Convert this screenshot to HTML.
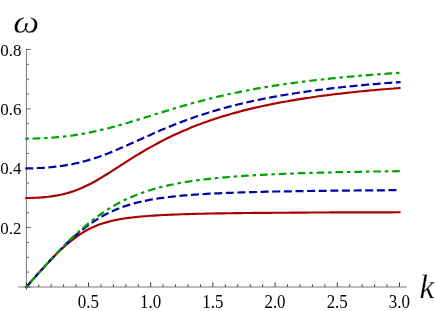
<!DOCTYPE html>
<html><head><meta charset="utf-8"><title>Dispersion relation plot</title>
<style>
html,body{margin:0;padding:0;background:#fff;}
body{width:436px;height:311px;overflow:hidden;}
svg{display:block;will-change:transform;}
text{font-family:"Liberation Serif",serif;fill:#000;}
</style></head><body>
<svg width="436" height="311" viewBox="0 0 436 311">
<rect width="436" height="311" fill="#fff"/>
<g stroke="#404040" stroke-width="0.78" fill="none">
<line x1="18.1" y1="287" x2="407" y2="287" stroke-width="0.7"/>
<line x1="26.40" y1="49.11" x2="26.40" y2="289.7" stroke-width="0.7"/>
<line x1="26.30" y1="286.95" x2="26.30" y2="282.35" stroke-width="1"/>
<line x1="38.74" y1="286.95" x2="38.74" y2="284.25" stroke-width="1"/>
<line x1="51.18" y1="286.95" x2="51.18" y2="284.25" stroke-width="1"/>
<line x1="63.62" y1="286.95" x2="63.62" y2="284.25" stroke-width="1"/>
<line x1="76.06" y1="286.95" x2="76.06" y2="284.25" stroke-width="1"/>
<line x1="88.50" y1="286.95" x2="88.50" y2="282.35" stroke-width="1"/>
<line x1="100.94" y1="286.95" x2="100.94" y2="284.25" stroke-width="1"/>
<line x1="113.38" y1="286.95" x2="113.38" y2="284.25" stroke-width="1"/>
<line x1="125.82" y1="286.95" x2="125.82" y2="284.25" stroke-width="1"/>
<line x1="138.26" y1="286.95" x2="138.26" y2="284.25" stroke-width="1"/>
<line x1="150.70" y1="286.95" x2="150.70" y2="282.35" stroke-width="1"/>
<line x1="163.14" y1="286.95" x2="163.14" y2="284.25" stroke-width="1"/>
<line x1="175.58" y1="286.95" x2="175.58" y2="284.25" stroke-width="1"/>
<line x1="188.02" y1="286.95" x2="188.02" y2="284.25" stroke-width="1"/>
<line x1="200.46" y1="286.95" x2="200.46" y2="284.25" stroke-width="1"/>
<line x1="212.90" y1="286.95" x2="212.90" y2="282.35" stroke-width="1"/>
<line x1="225.34" y1="286.95" x2="225.34" y2="284.25" stroke-width="1"/>
<line x1="237.78" y1="286.95" x2="237.78" y2="284.25" stroke-width="1"/>
<line x1="250.22" y1="286.95" x2="250.22" y2="284.25" stroke-width="1"/>
<line x1="262.66" y1="286.95" x2="262.66" y2="284.25" stroke-width="1"/>
<line x1="275.10" y1="286.95" x2="275.10" y2="282.35" stroke-width="1"/>
<line x1="287.54" y1="286.95" x2="287.54" y2="284.25" stroke-width="1"/>
<line x1="299.98" y1="286.95" x2="299.98" y2="284.25" stroke-width="1"/>
<line x1="312.42" y1="286.95" x2="312.42" y2="284.25" stroke-width="1"/>
<line x1="324.86" y1="286.95" x2="324.86" y2="284.25" stroke-width="1"/>
<line x1="337.30" y1="286.95" x2="337.30" y2="282.35" stroke-width="1"/>
<line x1="349.74" y1="286.95" x2="349.74" y2="284.25" stroke-width="1"/>
<line x1="362.18" y1="286.95" x2="362.18" y2="284.25" stroke-width="1"/>
<line x1="374.62" y1="286.95" x2="374.62" y2="284.25" stroke-width="1"/>
<line x1="387.06" y1="286.95" x2="387.06" y2="284.25" stroke-width="1"/>
<line x1="399.50" y1="286.95" x2="399.50" y2="282.35" stroke-width="1"/>
<line x1="26.3" y1="286.95" x2="30.90" y2="286.95"/>
<line x1="26.3" y1="272.11" x2="29.00" y2="272.11"/>
<line x1="26.3" y1="257.27" x2="29.00" y2="257.27"/>
<line x1="26.3" y1="242.43" x2="29.00" y2="242.43"/>
<line x1="26.3" y1="227.59" x2="30.90" y2="227.59"/>
<line x1="26.3" y1="212.75" x2="29.00" y2="212.75"/>
<line x1="26.3" y1="197.91" x2="29.00" y2="197.91"/>
<line x1="26.3" y1="183.07" x2="29.00" y2="183.07"/>
<line x1="26.3" y1="168.23" x2="30.90" y2="168.23"/>
<line x1="26.3" y1="153.39" x2="29.00" y2="153.39"/>
<line x1="26.3" y1="138.55" x2="29.00" y2="138.55"/>
<line x1="26.3" y1="123.71" x2="29.00" y2="123.71"/>
<line x1="26.3" y1="108.87" x2="30.90" y2="108.87"/>
<line x1="26.3" y1="94.03" x2="29.00" y2="94.03"/>
<line x1="26.3" y1="79.19" x2="29.00" y2="79.19"/>
<line x1="26.3" y1="64.35" x2="29.00" y2="64.35"/>
<line x1="26.3" y1="49.51" x2="30.90" y2="49.51"/>
</g>
<g font-size="16.9">
<text transform="translate(88.40 307.95) scale(1.0 1.06)" text-anchor="middle">0.5</text>
<text transform="translate(150.60 307.95) scale(1.0 1.06)" text-anchor="middle">1.0</text>
<text transform="translate(212.80 307.95) scale(1.0 1.06)" text-anchor="middle">1.5</text>
<text transform="translate(275.00 307.95) scale(1.0 1.06)" text-anchor="middle">2.0</text>
<text transform="translate(337.20 307.95) scale(1.0 1.06)" text-anchor="middle">2.5</text>
<text transform="translate(399.40 307.95) scale(1.0 1.06)" text-anchor="middle">3.0</text>
<text transform="translate(21.4 233.64) scale(1.0 1.05)" text-anchor="end">0.2</text>
<text transform="translate(21.4 174.28) scale(1.0 1.05)" text-anchor="end">0.4</text>
<text transform="translate(21.4 114.92) scale(1.0 1.05)" text-anchor="end">0.6</text>
<text transform="translate(21.4 55.56) scale(1.0 1.05)" text-anchor="end">0.8</text>
</g>
<text transform="translate(13.3 32.55) scale(1.05 0.9)" font-size="35" font-style="italic" stroke="#fff" stroke-width="0.3">ω</text>
<text x="419.4" y="297.5" font-size="33.2" font-style="italic" stroke="#fff" stroke-width="0.25">k</text>
<g stroke-linecap="square" stroke-linejoin="round">
<path d="M26.3,287.1 L29.4,283.5 L32.5,279.9 L35.6,276.4 L38.7,272.9 L41.9,269.5 L45.0,266.1 L48.1,262.7 L51.2,259.4 L54.3,256.2 L57.4,253.1 L60.5,250.1 L63.6,247.2 L66.7,244.5 L69.8,241.9 L73.0,239.4 L76.1,237.1 L79.2,234.9 L82.3,232.9 L85.4,231.0 L88.5,229.3 L91.6,227.8 L94.7,226.4 L97.8,225.1 L100.9,224.0 L104.0,223.0 L107.2,222.1 L110.3,221.3 L113.4,220.5 L116.5,219.9 L119.6,219.3 L122.7,218.8 L125.8,218.3 L128.9,217.9 L132.0,217.5 L135.2,217.1 L138.3,216.8 L141.4,216.5 L144.5,216.2 L147.6,216.0 L150.7,215.8 L153.8,215.6 L156.9,215.4 L160.0,215.2 L163.1,215.0 L166.3,214.9 L169.4,214.7 L172.5,214.6 L175.6,214.5 L178.7,214.4 L181.8,214.2 L184.9,214.1 L188.0,214.1 L191.1,214.0 L194.2,213.9 L197.4,213.8 L200.5,213.7 L203.6,213.7 L206.7,213.6 L209.8,213.5 L212.9,213.5 L216.0,213.4 L219.1,213.4 L222.2,213.3 L225.3,213.3 L228.5,213.2 L231.6,213.2 L234.7,213.1 L237.8,213.1 L240.9,213.1 L244.0,213.0 L247.1,213.0 L250.2,213.0 L253.3,212.9 L256.4,212.9 L259.6,212.9 L262.7,212.8 L265.8,212.8 L268.9,212.8 L272.0,212.8 L275.1,212.7 L278.2,212.7 L281.3,212.7 L284.4,212.7 L287.5,212.7 L290.7,212.6 L293.8,212.6 L296.9,212.6 L300.0,212.6 L303.1,212.6 L306.2,212.6 L309.3,212.5 L312.4,212.5 L315.5,212.5 L318.6,212.5 L321.8,212.5 L324.9,212.5 L328.0,212.5 L331.1,212.4 L334.2,212.4 L337.3,212.4 L340.4,212.4 L343.5,212.4 L346.6,212.4 L349.7,212.4 L352.9,212.4 L356.0,212.4 L359.1,212.3 L362.2,212.3 L365.3,212.3 L368.4,212.3 L371.5,212.3 L374.6,212.3 L377.7,212.3 L380.8,212.3 L384.0,212.3 L387.1,212.3 L390.2,212.3 L393.3,212.3 L396.4,212.2 L399.5,212.2" fill="none" stroke="#a80000" stroke-width="2.15"/>
<path d="M26.3,198.0 L29.4,198.0 L32.5,197.9 L35.6,197.8 L38.7,197.6 L41.9,197.4 L45.0,197.1 L48.1,196.8 L51.2,196.4 L54.3,195.9 L57.4,195.4 L60.5,194.8 L63.6,194.1 L66.7,193.3 L69.8,192.4 L73.0,191.4 L76.1,190.3 L79.2,189.1 L82.3,187.8 L85.4,186.3 L88.5,184.8 L91.6,183.2 L94.7,181.5 L97.8,179.7 L100.9,177.9 L104.0,176.0 L107.2,174.0 L110.3,172.1 L113.4,170.1 L116.5,168.1 L119.6,166.1 L122.7,164.1 L125.8,162.1 L128.9,160.1 L132.0,158.2 L135.2,156.2 L138.3,154.3 L141.4,152.5 L144.5,150.6 L147.6,148.8 L150.7,147.1 L153.8,145.4 L156.9,143.7 L160.0,142.0 L163.1,140.4 L166.3,138.8 L169.4,137.3 L172.5,135.8 L175.6,134.3 L178.7,132.9 L181.8,131.5 L184.9,130.2 L188.0,128.9 L191.1,127.6 L194.2,126.3 L197.4,125.1 L200.5,124.0 L203.6,122.8 L206.7,121.7 L209.8,120.6 L212.9,119.5 L216.0,118.5 L219.1,117.5 L222.2,116.5 L225.3,115.6 L228.5,114.7 L231.6,113.8 L234.7,112.9 L237.8,112.1 L240.9,111.2 L244.0,110.4 L247.1,109.6 L250.2,108.9 L253.3,108.1 L256.4,107.4 L259.6,106.7 L262.7,106.0 L265.8,105.4 L268.9,104.7 L272.0,104.1 L275.1,103.5 L278.2,102.9 L281.3,102.3 L284.4,101.7 L287.5,101.2 L290.7,100.6 L293.8,100.1 L296.9,99.6 L300.0,99.1 L303.1,98.6 L306.2,98.1 L309.3,97.7 L312.4,97.2 L315.5,96.8 L318.6,96.3 L321.8,95.9 L324.9,95.5 L328.0,95.1 L331.1,94.7 L334.2,94.3 L337.3,93.9 L340.4,93.6 L343.5,93.2 L346.6,92.9 L349.7,92.5 L352.9,92.2 L356.0,91.9 L359.1,91.5 L362.2,91.2 L365.3,90.9 L368.4,90.6 L371.5,90.3 L374.6,90.1 L377.7,89.8 L380.8,89.5 L384.0,89.2 L387.1,89.0 L390.2,88.7 L393.3,88.5 L396.4,88.2 L399.5,88.0" fill="none" stroke="#a80000" stroke-width="2.15"/>
<path d="M26.3,287.1 L29.4,283.5 L32.5,279.9 L35.6,276.4 L38.7,272.9 L41.9,269.4 L45.0,266.0 L48.1,262.6 L51.2,259.2 L54.3,255.9 L57.4,252.7 L60.5,249.5 L63.6,246.4 L66.7,243.4 L69.8,240.5 L73.0,237.6 L76.1,234.9 L79.2,232.3 L82.3,229.8 L85.4,227.4 L88.5,225.1 L91.6,222.9 L94.7,220.8 L97.8,218.8 L100.9,217.0 L104.0,215.2 L107.2,213.6 L110.3,212.1 L113.4,210.7 L116.5,209.3 L119.6,208.1 L122.7,206.9 L125.8,205.9 L128.9,204.9 L132.0,204.0 L135.2,203.1 L138.3,202.3 L141.4,201.6 L144.5,200.9 L147.6,200.3 L150.7,199.7 L153.8,199.2 L156.9,198.7 L160.0,198.2 L163.1,197.8 L166.3,197.4 L169.4,197.0 L172.5,196.6 L175.6,196.3 L178.7,196.0 L181.8,195.7 L184.9,195.4 L188.0,195.2 L191.1,194.9 L194.2,194.7 L197.4,194.5 L200.5,194.3 L203.6,194.1 L206.7,193.9 L209.8,193.7 L212.9,193.6 L216.0,193.4 L219.1,193.3 L222.2,193.1 L225.3,193.0 L228.5,192.9 L231.6,192.8 L234.7,192.6 L237.8,192.5 L240.9,192.4 L244.0,192.3 L247.1,192.2 L250.2,192.1 L253.3,192.1 L256.4,192.0 L259.6,191.9 L262.7,191.8 L265.8,191.7 L268.9,191.7 L272.0,191.6 L275.1,191.5 L278.2,191.5 L281.3,191.4 L284.4,191.4 L287.5,191.3 L290.7,191.3 L293.8,191.2 L296.9,191.2 L300.0,191.1 L303.1,191.1 L306.2,191.0 L309.3,191.0 L312.4,190.9 L315.5,190.9 L318.6,190.9 L321.8,190.8 L324.9,190.8 L328.0,190.7 L331.1,190.7 L334.2,190.7 L337.3,190.6 L340.4,190.6 L343.5,190.6 L346.6,190.6 L349.7,190.5 L352.9,190.5 L356.0,190.5 L359.1,190.4 L362.2,190.4 L365.3,190.4 L368.4,190.4 L371.5,190.4 L374.6,190.3 L377.7,190.3 L380.8,190.3 L384.0,190.3 L387.1,190.2 L390.2,190.2 L393.3,190.2 L396.4,190.2 L399.5,190.2" fill="none" stroke="#0000a8" stroke-width="2.2" stroke-dasharray="5.81 5.81" stroke-linecap="square"/>
<path d="M26.3,168.3 L29.4,168.3 L32.5,168.3 L35.6,168.2 L38.7,168.0 L41.9,167.9 L45.0,167.7 L48.1,167.4 L51.2,167.2 L54.3,166.8 L57.4,166.5 L60.5,166.1 L63.6,165.6 L66.7,165.1 L69.8,164.6 L73.0,164.0 L76.1,163.3 L79.2,162.6 L82.3,161.8 L85.4,161.0 L88.5,160.1 L91.6,159.2 L94.7,158.2 L97.8,157.2 L100.9,156.1 L104.0,154.9 L107.2,153.8 L110.3,152.5 L113.4,151.3 L116.5,150.0 L119.6,148.6 L122.7,147.3 L125.8,145.9 L128.9,144.5 L132.0,143.1 L135.2,141.7 L138.3,140.3 L141.4,138.9 L144.5,137.5 L147.6,136.1 L150.7,134.7 L153.8,133.3 L156.9,131.9 L160.0,130.6 L163.1,129.3 L166.3,128.0 L169.4,126.7 L172.5,125.4 L175.6,124.2 L178.7,123.0 L181.8,121.8 L184.9,120.6 L188.0,119.5 L191.1,118.4 L194.2,117.3 L197.4,116.2 L200.5,115.2 L203.6,114.2 L206.7,113.2 L209.8,112.2 L212.9,111.3 L216.0,110.4 L219.1,109.5 L222.2,108.6 L225.3,107.7 L228.5,106.9 L231.6,106.1 L234.7,105.3 L237.8,104.5 L240.9,103.8 L244.0,103.0 L247.1,102.3 L250.2,101.6 L253.3,100.9 L256.4,100.3 L259.6,99.6 L262.7,99.0 L265.8,98.4 L268.9,97.8 L272.0,97.2 L275.1,96.6 L278.2,96.1 L281.3,95.5 L284.4,95.0 L287.5,94.5 L290.7,94.0 L293.8,93.5 L296.9,93.0 L300.0,92.5 L303.1,92.1 L306.2,91.6 L309.3,91.2 L312.4,90.8 L315.5,90.4 L318.6,89.9 L321.8,89.6 L324.9,89.2 L328.0,88.8 L331.1,88.4 L334.2,88.1 L337.3,87.7 L340.4,87.4 L343.5,87.0 L346.6,86.7 L349.7,86.4 L352.9,86.1 L356.0,85.8 L359.1,85.5 L362.2,85.2 L365.3,84.9 L368.4,84.6 L371.5,84.3 L374.6,84.1 L377.7,83.8 L380.8,83.5 L384.0,83.3 L387.1,83.0 L390.2,82.8 L393.3,82.6 L396.4,82.3 L399.5,82.1" fill="none" stroke="#0000a8" stroke-width="2.2" stroke-dasharray="5.81 5.81" stroke-linecap="square"/>
<path d="M26.3,287.1 L29.4,283.5 L32.5,279.9 L35.6,276.4 L38.7,272.9 L41.9,269.4 L45.0,265.9 L48.1,262.5 L51.2,259.1 L54.3,255.8 L57.4,252.5 L60.5,249.2 L63.6,246.1 L66.7,242.9 L69.8,239.9 L73.0,236.9 L76.1,234.1 L79.2,231.2 L82.3,228.5 L85.4,225.9 L88.5,223.3 L91.6,220.9 L94.7,218.5 L97.8,216.2 L100.9,214.0 L104.0,211.9 L107.2,209.9 L110.3,207.9 L113.4,206.1 L116.5,204.3 L119.6,202.6 L122.7,201.1 L125.8,199.5 L128.9,198.1 L132.0,196.7 L135.2,195.4 L138.3,194.2 L141.4,193.1 L144.5,192.0 L147.6,190.9 L150.7,190.0 L153.8,189.0 L156.9,188.2 L160.0,187.3 L163.1,186.6 L166.3,185.8 L169.4,185.1 L172.5,184.5 L175.6,183.8 L178.7,183.2 L181.8,182.7 L184.9,182.2 L188.0,181.6 L191.1,181.2 L194.2,180.7 L197.4,180.3 L200.5,179.9 L203.6,179.5 L206.7,179.1 L209.8,178.8 L212.9,178.5 L216.0,178.1 L219.1,177.8 L222.2,177.5 L225.3,177.3 L228.5,177.0 L231.6,176.8 L234.7,176.5 L237.8,176.3 L240.9,176.1 L244.0,175.9 L247.1,175.7 L250.2,175.5 L253.3,175.3 L256.4,175.1 L259.6,174.9 L262.7,174.8 L265.8,174.6 L268.9,174.5 L272.0,174.3 L275.1,174.2 L278.2,174.1 L281.3,173.9 L284.4,173.8 L287.5,173.7 L290.7,173.6 L293.8,173.5 L296.9,173.3 L300.0,173.2 L303.1,173.1 L306.2,173.1 L309.3,173.0 L312.4,172.9 L315.5,172.8 L318.6,172.7 L321.8,172.6 L324.9,172.5 L328.0,172.5 L331.1,172.4 L334.2,172.3 L337.3,172.2 L340.4,172.2 L343.5,172.1 L346.6,172.0 L349.7,172.0 L352.9,171.9 L356.0,171.9 L359.1,171.8 L362.2,171.8 L365.3,171.7 L368.4,171.6 L371.5,171.6 L374.6,171.5 L377.7,171.5 L380.8,171.5 L384.0,171.4 L387.1,171.4 L390.2,171.3 L393.3,171.3 L396.4,171.2 L399.5,171.2" fill="none" stroke="#00a200" stroke-width="2.2" stroke-dasharray="1.3 6.05 5.5 6.045" stroke-linecap="square"/>
<path d="M26.3,138.7 L29.4,138.6 L32.5,138.6 L35.6,138.5 L38.7,138.4 L41.9,138.3 L45.0,138.1 L48.1,137.9 L51.2,137.7 L54.3,137.5 L57.4,137.2 L60.5,136.9 L63.6,136.6 L66.7,136.2 L69.8,135.8 L73.0,135.4 L76.1,134.9 L79.2,134.4 L82.3,133.9 L85.4,133.3 L88.5,132.7 L91.6,132.1 L94.7,131.4 L97.8,130.8 L100.9,130.0 L104.0,129.3 L107.2,128.5 L110.3,127.7 L113.4,126.9 L116.5,126.1 L119.6,125.2 L122.7,124.3 L125.8,123.4 L128.9,122.5 L132.0,121.5 L135.2,120.6 L138.3,119.6 L141.4,118.7 L144.5,117.7 L147.6,116.7 L150.7,115.8 L153.8,114.8 L156.9,113.8 L160.0,112.8 L163.1,111.9 L166.3,110.9 L169.4,110.0 L172.5,109.0 L175.6,108.1 L178.7,107.2 L181.8,106.3 L184.9,105.4 L188.0,104.5 L191.1,103.6 L194.2,102.7 L197.4,101.9 L200.5,101.1 L203.6,100.3 L206.7,99.5 L209.8,98.7 L212.9,97.9 L216.0,97.2 L219.1,96.4 L222.2,95.7 L225.3,95.0 L228.5,94.3 L231.6,93.6 L234.7,93.0 L237.8,92.3 L240.9,91.7 L244.0,91.1 L247.1,90.5 L250.2,89.9 L253.3,89.3 L256.4,88.7 L259.6,88.2 L262.7,87.6 L265.8,87.1 L268.9,86.6 L272.0,86.1 L275.1,85.6 L278.2,85.1 L281.3,84.7 L284.4,84.2 L287.5,83.8 L290.7,83.3 L293.8,82.9 L296.9,82.5 L300.0,82.1 L303.1,81.7 L306.2,81.3 L309.3,80.9 L312.4,80.5 L315.5,80.2 L318.6,79.8 L321.8,79.5 L324.9,79.1 L328.0,78.8 L331.1,78.5 L334.2,78.1 L337.3,77.8 L340.4,77.5 L343.5,77.2 L346.6,76.9 L349.7,76.6 L352.9,76.4 L356.0,76.1 L359.1,75.8 L362.2,75.6 L365.3,75.3 L368.4,75.1 L371.5,74.8 L374.6,74.6 L377.7,74.3 L380.8,74.1 L384.0,73.9 L387.1,73.7 L390.2,73.4 L393.3,73.2 L396.4,73.0 L399.5,72.8" fill="none" stroke="#00a200" stroke-width="2.2" stroke-dasharray="1.3 6.05 5.5 6.045" stroke-linecap="square"/>
</g>
</svg>
</body></html>
